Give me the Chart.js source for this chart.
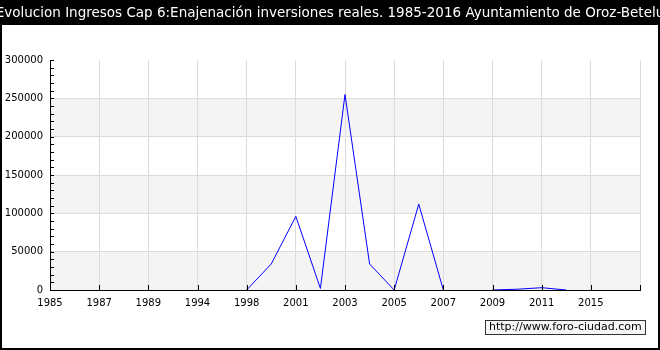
<!DOCTYPE html>
<html>
<head>
<meta charset="utf-8">
<script src="https://cdn.jsdelivr.net/npm/chart.js@4/dist/chart.umd.min.js"></script>
<style>
  html, body { margin: 0; padding: 0; background: #000; }
  #wrap { width: 660px; height: 350px; }
</style>
</head>
<body>
<div id="wrap"><canvas id="chart" width="660" height="350"></canvas></div>
<script>
(function () {
  'use strict';

  var titleText = 'Evolucion Ingresos Cap 6:Enajenación inversiones reales. 1985-2016 Ayuntamiento de Oroz-Betelu';
  var watermark = 'http://www.foro-ciudad.com';

  var years = ['1985', '1986', '1987', '1988', '1989', '1993', '1994', '1997', '1998', '2000',
               '2001', '2002', '2003', '2004', '2005', '2006', '2007', '2008', '2009', '2010',
               '2011', '2012', '2015', '2016', ''];
  var ingresos = [null, null, null, null, null, null, null, null, 0, 34000,
                  96000, 2000, 255000, 34000, 0, 112000, 0, null, 0, 1000,
                  3000, 0, null, null, null];
  var yTicks = [0, 50000, 100000, 150000, 200000, 250000, 300000];

  var font = 'DejaVu Sans';

  var framePlugin = {
    id: 'frame',
    beforeDraw: function (chart) {
      var c = chart.ctx, a = chart.chartArea, y = chart.scales.y;
      c.save();
      c.fillStyle = '#000';
      c.fillRect(0, 0, chart.width, chart.height);
      c.fillStyle = '#fff';
      c.fillRect(2, 25, 656, 323);
      // alternating bands
      c.fillStyle = '#f4f4f4';
      for (var i = 0; i < yTicks.length - 1; i += 2) {
        var top = y.getPixelForValue(yTicks[i + 1]);
        var bot = y.getPixelForValue(yTicks[i]);
        c.fillRect(a.left, top, a.right - a.left, bot - top);
      }
      c.restore();
    },
    afterDraw: function (chart) {
      var c = chart.ctx, a = chart.chartArea, x = chart.scales.x, y = chart.scales.y;
      c.save();
      // title
      c.fillStyle = '#fff';
      c.font = '13.5px "' + font + '"';
      c.textAlign = 'center';
      c.textBaseline = 'middle';
      c.fillText(titleText, 330, 13);
      // tick marks inside the plot
      c.strokeStyle = '#000';
      c.lineWidth = 1;
      c.beginPath();
      for (var v = 0; v <= 300000; v += 10000) {
        var py = Math.round(y.getPixelForValue(v)) + 0.5;
        c.moveTo(a.left, py);
        c.lineTo(a.left + 4, py);
      }
      for (var i = 0; i < years.length; i += 2) {
        var px = Math.round(x.getPixelForValue(i)) + 0.5;
        c.moveTo(px, a.bottom);
        c.lineTo(px, a.bottom - 5);
      }
      c.stroke();
      // watermark box
      c.fillStyle = '#f6f6f6';
      c.fillRect(485, 320, 160, 14);
      c.strokeStyle = '#333';
      c.strokeRect(485.5, 320.5, 160, 14);
      c.fillStyle = '#000';
      c.font = '11px "' + font + '"';
      c.textAlign = 'left';
      c.fillText(watermark, 489, 327.5);
      c.restore();
    }
  };

  new Chart(document.getElementById('chart'), {
    type: 'line',
    data: {
      labels: years,
      datasets: [{
        data: ingresos,
        borderColor: '#0000ff',
        borderWidth: 1,
        pointRadius: 0,
        fill: false,
        tension: 0,
        spanGaps: false
      }]
    },
    options: {
      responsive: false,
      animation: false,
      layout: { padding: { left: 0, top: 60, right: 20, bottom: 0 } },
      plugins: {
        legend: { display: false },
        tooltip: { enabled: false }
      },
      scales: {
        x: {
          offset: false,
          afterFit: function (s) { s.height = 60; },
          border: { color: '#000', width: 1 },
          grid: {
            drawTicks: false,
            color: function (ctx) { return ctx.index % 2 === 0 && ctx.index > 0 ? '#dcdcdc' : 'transparent'; }
          },
          ticks: {
            autoSkip: false,
            maxRotation: 0,
            padding: 7,
            color: '#000',
            font: { family: font, size: 10 },
            callback: function (val, idx) {
              return idx % 2 === 0 && idx < years.length - 1 ? years[idx] : '';
            }
          }
        },
        y: {
          min: 0,
          max: 300000,
          afterFit: function (s) { s.width = 50; },
          afterBuildTicks: function (s) {
            s.ticks = yTicks.map(function (v) { return { value: v }; });
          },
          border: { color: '#000', width: 1 },
          grid: {
            drawTicks: false,
            color: function (ctx) {
              return ctx.tick && ctx.tick.value > 0 && ctx.tick.value < 300000 ? '#dcdcdc' : 'transparent';
            }
          },
          ticks: {
            padding: 7,
            color: '#000',
            font: { family: font, size: 10 },
            callback: function (val) { return String(val); }
          }
        }
      }
    },
    plugins: [framePlugin]
  });
})();
</script>
</body>
</html>
